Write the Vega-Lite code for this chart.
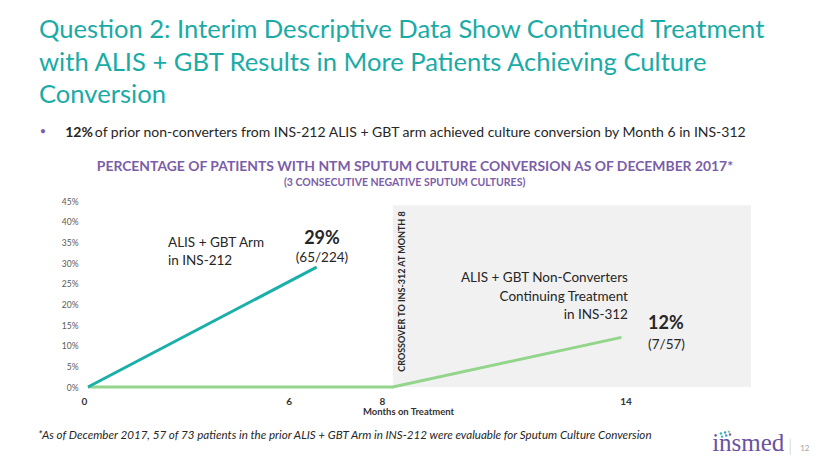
{
  "$schema": "https://vega.github.io/schema/vega-lite/v6.json",
  "width": 663,
  "height": 186,
  "autosize": {"type": "none"},
  "padding": {"left": 88, "top": 201, "right": 79, "bottom": 80},
  "background": "white",
  "title": {
    "text": ["Question 2: Interim Descriptive Data Show Continued Treatment", "with ALIS + GBT Results in More Patients Achieving Culture", "Conversion"],
    "anchor": "start",
    "frame": "group",
    "dx": -49,
    "offset": 17,
    "font": "Lato",
    "fontSize": 25.6,
    "fontWeight": "normal",
    "color": "#1AABA6",
    "lineHeight": 32.5
  },
  "config": {"view": {"stroke": null}},
  "layer": [
    {
      "data": {"values": [{"month": 8, "month_end": 17.4, "pct": 0, "pct_end": 44}]},
      "mark": {"type": "rect", "color": "#F1F1F1"},
      "encoding": {
        "x": {
          "field": "month", "type": "quantitative",
          "scale": {"domain": [0, 17.4], "nice": false, "zero": false},
          "axis": {
            "values": [0, 6, 8, 14],
            "title": "Months on Treatment",
            "titleFont": "Lato", "titleFontSize": 9.5, "titleFontWeight": "bold", "titleColor": "#333333",
            "titlePadding": 0,
            "titleX": 320,
            "labelFont": "Lato", "labelFontSize": 10, "labelFontWeight": "bold", "labelColor": "#333333",
            "labelPadding": 9,
            "labelOverlap": false,
            "labelOffset": {"condition": [
              {"test": "datum.value == 0", "value": -7},
              {"test": "datum.value == 6", "value": -28},
              {"test": "datum.value == 8", "value": -11}
            ], "value": 4},
            "ticks": false, "domain": false, "grid": false
          }
        },
        "x2": {"field": "month_end"},
        "y": {
          "field": "pct", "type": "quantitative",
          "scale": {"domain": [0, 45], "nice": false},
          "axis": {
            "values": [0, 5, 10, 15, 20, 25, 30, 35, 40, 45],
            "tickCount": 10,
            "labelExpr": "datum.value + '%'",
            "title": null,
            "labelFont": "Lato", "labelFontSize": 8.5, "labelColor": "#595959",
            "labelPadding": 10,
            "labelOverlap": false,
            "ticks": false, "domain": false, "grid": false
          }
        },
        "y2": {"field": "pct_end"}
      }
    },
    {
      "data": {"values": [
        {"month": 0, "pct": 0, "series": "Non-converters INS-312"},
        {"month": 8, "pct": 0, "series": "Non-converters INS-312"},
        {"month": 14, "pct": 12, "series": "Non-converters INS-312"},
        {"month": 0, "pct": 0, "series": "ALIS + GBT INS-212"},
        {"month": 6, "pct": 29, "series": "ALIS + GBT INS-212"}
      ]},
      "mark": {"type": "line", "strokeWidth": 3},
      "encoding": {
        "x": {"field": "month", "type": "quantitative"},
        "y": {
          "field": "pct", "type": "quantitative",
          "axis": {
            "values": [0, 5, 10, 15, 20, 25, 30, 35, 40, 45],
            "tickCount": 10,
            "labelExpr": "datum.value + '%'",
            "title": null,
            "labelFont": "Lato", "labelFontSize": 8.5, "labelColor": "#595959",
            "labelPadding": 10,
            "labelOverlap": false,
            "ticks": false, "domain": false, "grid": false
          }
        },
        "color": {
          "field": "series", "type": "nominal",
          "scale": {"domain": ["Non-converters INS-312", "ALIS + GBT INS-212"], "range": ["#92D58B", "#1AAFA9"]},
          "legend": null
        },
        "order": {"field": "month"}
      }
    },
    {
      "data": {"values": [
        {"label": "ALIS + GBT Arm", "month": 2.1, "pct": 33.9},
        {"label": "in INS-212", "month": 2.1, "pct": 29.5}
      ]},
      "mark": {"type": "text", "align": "left", "baseline": "alphabetic", "font": "Lato", "fontSize": 13.5, "color": "#262626"},
      "encoding": {
        "x": {"field": "month", "type": "quantitative"},
        "y": {"field": "pct", "type": "quantitative"},
        "text": {"field": "label"}
      }
    },
    {
      "data": {"values": [
        {"label": "ALIS + GBT Non-Converters", "month": 14.17, "pct": 25.4},
        {"label": "Continuing Treatment", "month": 14.17, "pct": 20.8},
        {"label": "in INS-312", "month": 14.17, "pct": 16.5}
      ]},
      "mark": {"type": "text", "align": "right", "baseline": "alphabetic", "font": "Lato", "fontSize": 13.5, "color": "#262626"},
      "encoding": {
        "x": {"field": "month", "type": "quantitative"},
        "y": {"field": "pct", "type": "quantitative"},
        "text": {"field": "label"}
      }
    },
    {
      "data": {"values": [{"label": "29%", "month": 6.14, "pct": 34.6}]},
      "mark": {"type": "text", "align": "center", "baseline": "alphabetic", "font": "Lato", "fontSize": 18, "fontWeight": "bold", "color": "#262626"},
      "encoding": {
        "x": {"field": "month", "type": "quantitative"},
        "y": {"field": "pct", "type": "quantitative"},
        "text": {"field": "label"}
      }
    },
    {
      "data": {"values": [{"label": "(65/224)", "month": 6.14, "pct": 30.3}]},
      "mark": {"type": "text", "align": "center", "baseline": "alphabetic", "font": "Lato", "fontSize": 13.5, "color": "#262626"},
      "encoding": {
        "x": {"field": "month", "type": "quantitative"},
        "y": {"field": "pct", "type": "quantitative"},
        "text": {"field": "label"}
      }
    },
    {
      "data": {"values": [{"label": "12%", "month": 14.7, "pct": 14.1}]},
      "mark": {"type": "text", "align": "left", "baseline": "alphabetic", "font": "Lato", "fontSize": 18, "fontWeight": "bold", "color": "#262626"},
      "encoding": {
        "x": {"field": "month", "type": "quantitative"},
        "y": {"field": "pct", "type": "quantitative"},
        "text": {"field": "label"}
      }
    },
    {
      "data": {"values": [{"label": "(7/57)", "month": 14.7, "pct": 9.3}]},
      "mark": {"type": "text", "align": "left", "baseline": "alphabetic", "font": "Lato", "fontSize": 13.5, "color": "#262626"},
      "encoding": {
        "x": {"field": "month", "type": "quantitative"},
        "y": {"field": "pct", "type": "quantitative"},
        "text": {"field": "label"}
      }
    },
    {
      "data": {"values": [{"label": "CROSSOVER TO  INS-312 AT MONTH 8", "month": 8.24, "pct": 23.1}]},
      "mark": {"type": "text", "align": "center", "baseline": "middle", "angle": 270, "font": "Lato", "fontSize": 9, "fontWeight": "bold", "color": "#262626"},
      "encoding": {
        "x": {"field": "month", "type": "quantitative"},
        "y": {"field": "pct", "type": "quantitative"},
        "text": {"field": "label"}
      }
    },
    {
      "data": {"values": [{"label": "PERCENTAGE OF PATIENTS WITH NTM SPUTUM CULTURE CONVERSION AS OF DECEMBER 2017*", "month": 8.58, "pct": 52.25}]},
      "mark": {"type": "text", "align": "center", "baseline": "alphabetic", "font": "Lato", "fontSize": 13.9, "fontWeight": "bold", "color": "#7B5EA7"},
      "encoding": {
        "x": {"field": "month", "type": "quantitative"},
        "y": {"field": "pct", "type": "quantitative"},
        "text": {"field": "label"}
      }
    },
    {
      "data": {"values": [{"label": "(3 CONSECUTIVE NEGATIVE SPUTUM CULTURES)", "month": 8.31, "pct": 48.6}]},
      "mark": {"type": "text", "align": "center", "baseline": "alphabetic", "font": "Lato", "fontSize": 10.5, "fontWeight": "bold", "color": "#7B5EA7"},
      "encoding": {
        "x": {"field": "month", "type": "quantitative"},
        "y": {"field": "pct", "type": "quantitative"},
        "text": {"field": "label"}
      }
    },
    {
      "data": {"values": [{"label": "•", "month": -1.18, "pct": 61.7}]},
      "mark": {"type": "text", "align": "center", "baseline": "middle", "font": "Lato", "fontSize": 11, "color": "#7B5EA7"},
      "encoding": {
        "x": {"field": "month", "type": "quantitative"},
        "y": {"field": "pct", "type": "quantitative"},
        "text": {"field": "label"}
      }
    },
    {
      "data": {"values": [{"label": "12%", "month": -0.6, "pct": 60.46}]},
      "mark": {"type": "text", "align": "left", "baseline": "alphabetic", "font": "Lato", "fontSize": 14, "fontWeight": "bold", "color": "#262626"},
      "encoding": {
        "x": {"field": "month", "type": "quantitative"},
        "y": {"field": "pct", "type": "quantitative"},
        "text": {"field": "label"}
      }
    },
    {
      "data": {"values": [{"label": "of prior non-converters from INS-212 ALIS + GBT arm achieved culture conversion by Month 6 in INS-312", "month": 0.18, "pct": 60.46}]},
      "mark": {"type": "text", "align": "left", "baseline": "alphabetic", "font": "Lato", "fontSize": 14, "color": "#262626"},
      "encoding": {
        "x": {"field": "month", "type": "quantitative"},
        "y": {"field": "pct", "type": "quantitative"},
        "text": {"field": "label"}
      }
    },
    {
      "data": {"values": [{"label": "*As of December 2017, 57 of 73 patients in the prior ALIS + GBT Arm in INS-212 were evaluable for Sputum Culture Conversion", "month": -1.31, "pct": -12.7}]},
      "mark": {"type": "text", "align": "left", "baseline": "alphabetic", "font": "Lato", "fontSize": 11.6, "fontStyle": "italic", "color": "#262626"},
      "encoding": {
        "x": {"field": "month", "type": "quantitative"},
        "y": {"field": "pct", "type": "quantitative"},
        "text": {"field": "label"}
      }
    },
    {
      "data": {"values": [{"label": "insmed", "month": 16.38, "pct": -15.6}]},
      "mark": {"type": "text", "align": "left", "baseline": "alphabetic", "font": "Liberation Serif", "fontSize": 25, "color": "#6A52A3"},
      "encoding": {
        "x": {"field": "month", "type": "quantitative"},
        "y": {"field": "pct", "type": "quantitative"},
        "text": {"field": "label"}
      }
    },
    {
      "data": {"values": [
        {"month": 16.61, "pct": -11.27, "tone": "teal"},
        {"month": 16.72, "pct": -11.03, "tone": "blue"},
        {"month": 16.82, "pct": -10.8, "tone": "green"},
        {"month": 16.64, "pct": -12.0, "tone": "teal"},
        {"month": 16.75, "pct": -11.75, "tone": "blue"},
        {"month": 16.85, "pct": -11.5, "tone": "purple"}
      ]},
      "mark": {"type": "point", "filled": true, "size": 6, "opacity": 1},
      "encoding": {
        "x": {"field": "month", "type": "quantitative"},
        "y": {"field": "pct", "type": "quantitative"},
        "fill": {
          "field": "tone", "type": "nominal",
          "scale": {"domain": ["teal", "blue", "green", "purple"], "range": ["#35B6B0", "#3A9AD9", "#8CD17D", "#7A5DA8"]},
          "legend": null
        }
      }
    },
    {
      "data": {"values": [{"month": 18.43, "pct": -12.5, "pct_end": -16.4}]},
      "mark": {"type": "rule", "color": "#D9D9D9", "strokeWidth": 1},
      "encoding": {
        "x": {"field": "month", "type": "quantitative"},
        "y": {"field": "pct", "type": "quantitative"},
        "y2": {"field": "pct_end"}
      }
    },
    {
      "data": {"values": [{"label": "12", "month": 18.69, "pct": -14.9}]},
      "mark": {"type": "text", "align": "left", "baseline": "middle", "font": "Lato", "fontSize": 8, "color": "#A6A6A6"},
      "encoding": {
        "x": {"field": "month", "type": "quantitative"},
        "y": {"field": "pct", "type": "quantitative"},
        "text": {"field": "label"}
      }
    }
  ]
}
